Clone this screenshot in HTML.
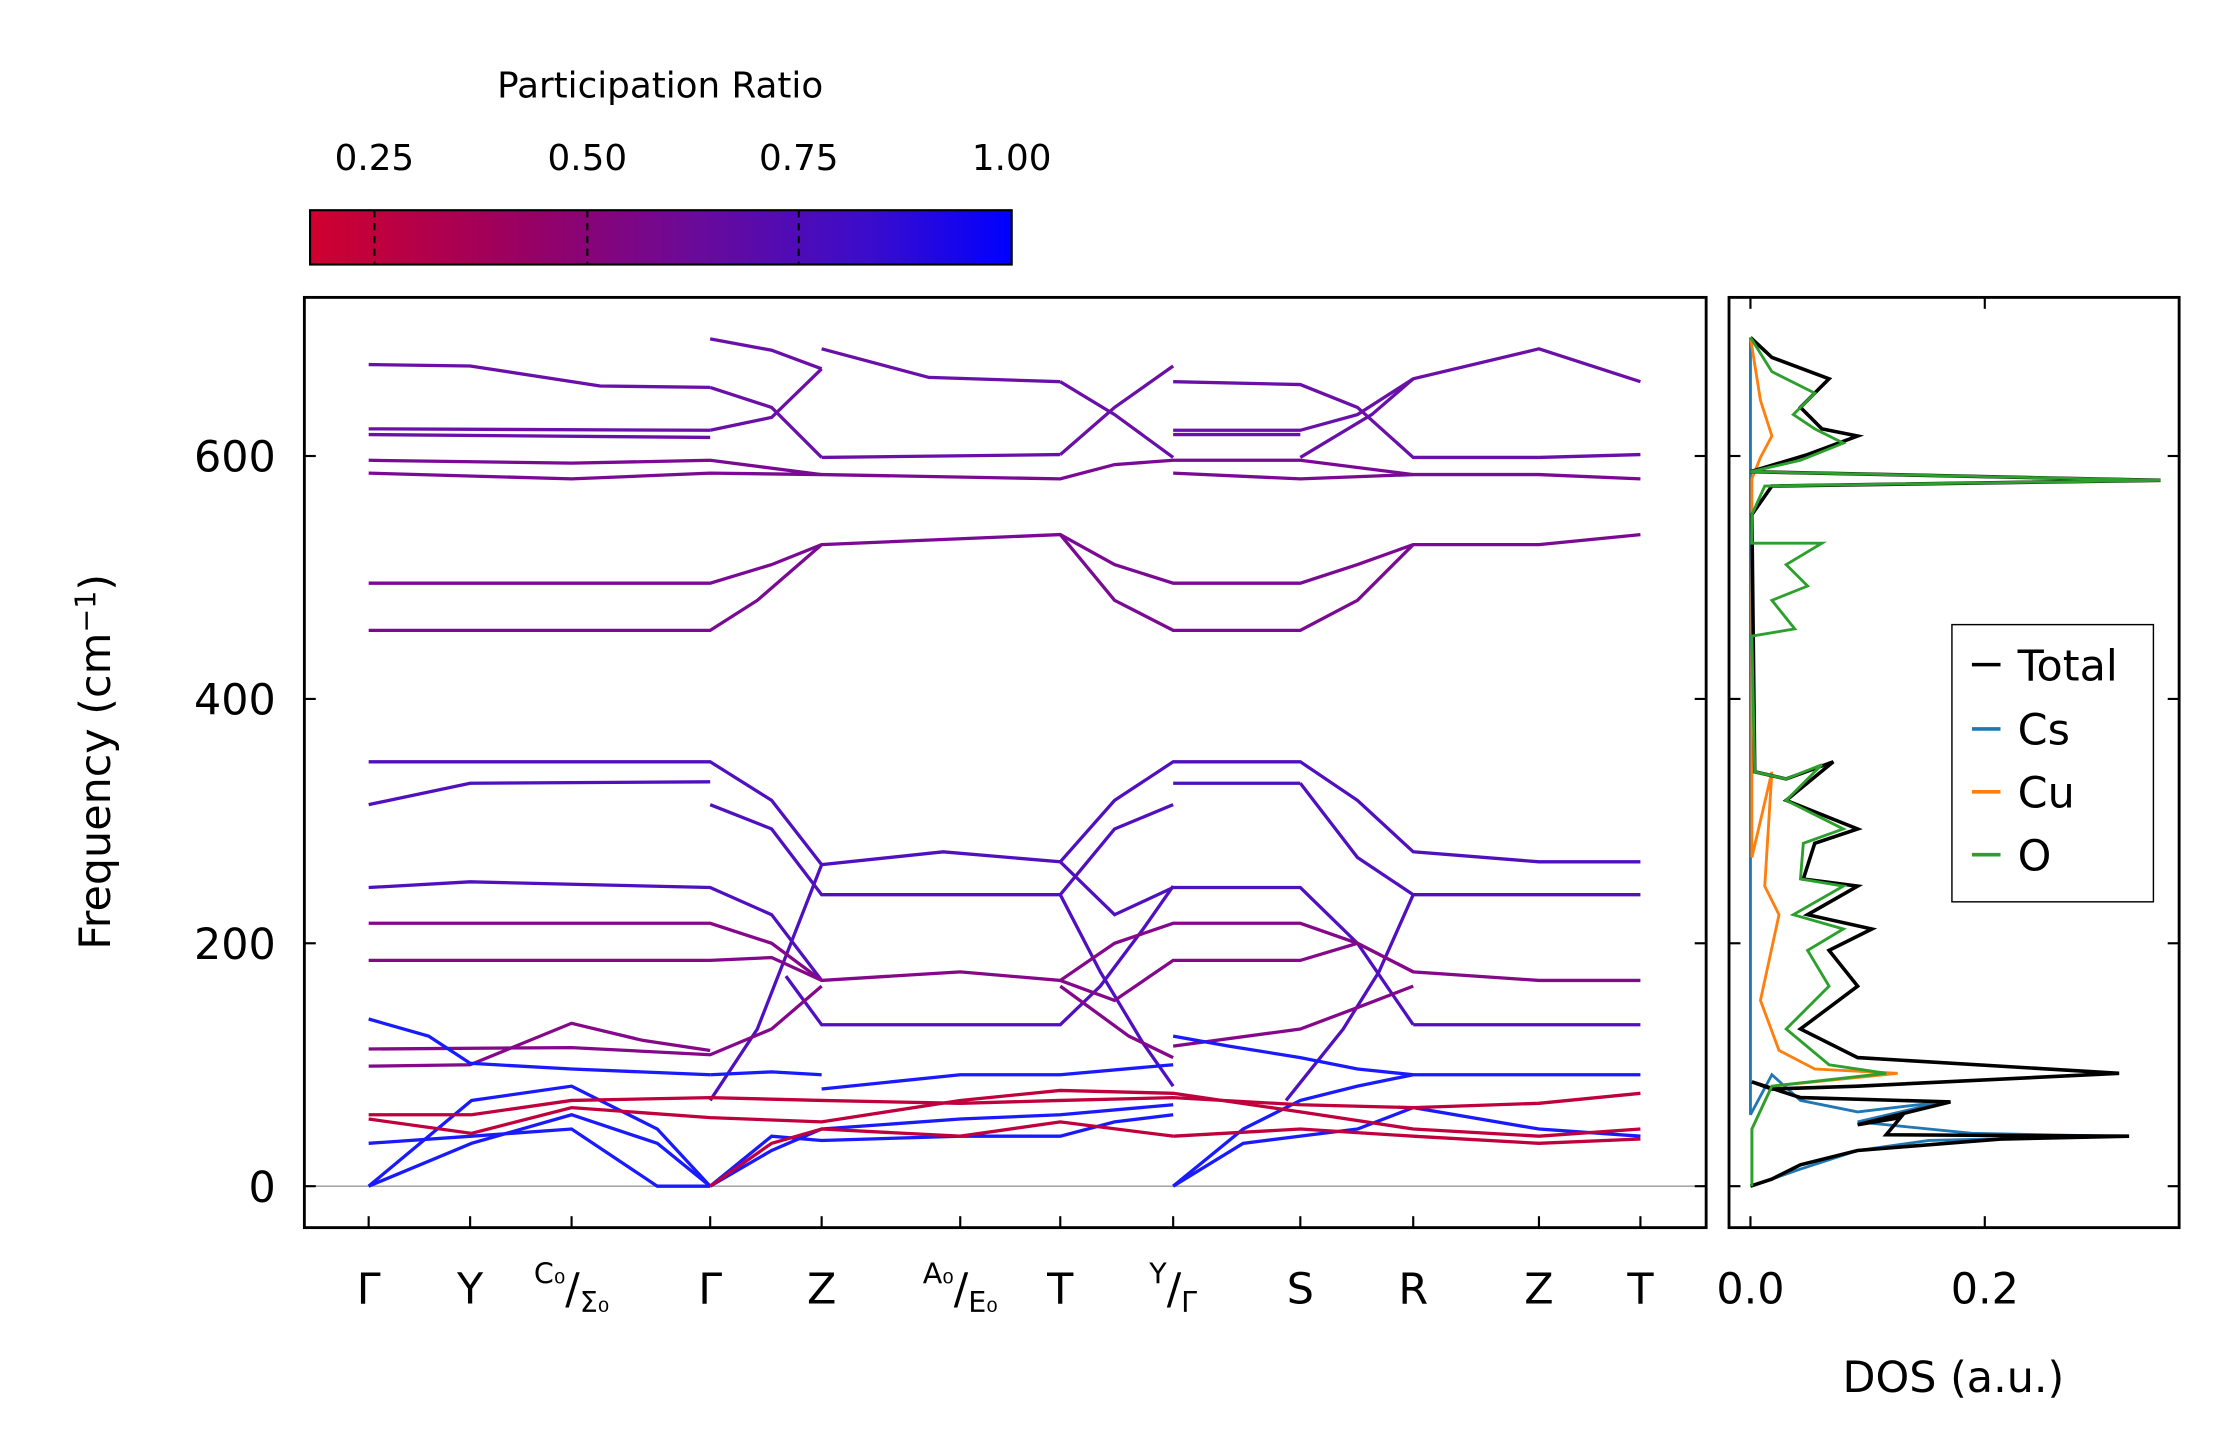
<!DOCTYPE html>
<html><head><meta charset="utf-8"><style>
html,body{margin:0;padding:0;background:#fff}
svg{display:block}
text{font-family:"DejaVu Sans","Liberation Sans",sans-serif;fill:#000}
</style></head><body>
<svg width="2222" height="1455" viewBox="0 0 1555 1018" xmlns="http://www.w3.org/2000/svg">
<defs>
<linearGradient id="cb" x1="0" x2="1" y1="0" y2="0">
<stop offset="0" stop-color="#d0002e"/><stop offset="0.3" stop-color="#9a0062"/>
<stop offset="0.55" stop-color="#6a0a9a"/><stop offset="0.8" stop-color="#3a0ccc"/>
<stop offset="1" stop-color="#0000ff"/></linearGradient>
<clipPath id="cp"><rect x="213" y="208" width="981" height="651"/></clipPath>
</defs>
<!-- colorbar -->
<text x="462" y="68" font-size="25" text-anchor="middle">Participation Ratio</text>
<g font-size="25" text-anchor="middle"><text x="262" y="119">0.25</text><text x="411" y="119">0.50</text><text x="559" y="119">0.75</text><text x="708" y="119">1.00</text></g>
<rect x="217" y="147" width="491" height="38" fill="url(#cb)" stroke="#000" stroke-width="1.5"/>
<g stroke="#000" stroke-width="1.5" stroke-dasharray="5,4"><line x1="262" y1="147" x2="262" y2="185"/><line x1="411" y1="147" x2="411" y2="185"/><line x1="559" y1="147" x2="559" y2="185"/></g>
<!-- main plot -->
<line x1="213" y1="830" x2="1194" y2="830" stroke="#999" stroke-width="1"/>
<g clip-path="url(#cp)" fill="none" stroke-width="2.3">
<g stroke="#6a10a8">
<polyline points="258,255 329,256 420,270 497,271"/>
<polyline points="258,300 497,301"/><polyline points="258,304 497,306"/>
<polyline points="497,237 540,245 575,258"/><polyline points="575,244 650,264 742,267"/>
<polyline points="497,301 540,292 575,258"/><polyline points="497,271 540,285 575,320"/>
<polyline points="575,320 742,318"/><polyline points="742,267 780,290 821,320"/><polyline points="742,318 780,285 821,256"/>
<polyline points="821,267 910,269 950,285 989,320 1077,320"/><polyline points="821,301 910,301 950,290 989,265 1077,244 1148,267"/>
<polyline points="821,304 910,304"/><polyline points="910,320 960,290 989,265"/>
<polyline points="1077,320 1148,318"/>
</g>
<g stroke="#7a0a94">
<polyline points="258,322 400,324 497,322 575,332 742,335 780,325 821,322 910,322 989,332 1077,332 1148,335"/>
<polyline points="258,331 400,335 497,331 575,332"/><polyline points="821,331 910,335 989,332"/>
<polyline points="258,408 497,408 540,395 575,381 742,374 780,395 821,408 910,408 950,395 989,381 1077,381 1148,374"/>
<polyline points="258,441 497,441 530,420 575,381"/><polyline points="742,374 780,420 821,441 910,441 950,420 989,381"/>
</g>
<g stroke="#5010c0">
<polyline points="258,533 497,533 540,560 575,605 660,596 742,603 780,560 821,533 910,533 950,560 989,596 1077,603 1148,603"/>
<polyline points="258,563 329,548 497,547"/><polyline points="497,563 540,580 575,626 742,626 780,580 821,563"/>
<polyline points="821,548 910,548"/><polyline points="910,548 950,600 989,626 1077,626 1148,626"/>
<polyline points="258,621 329,617 497,621 540,640 575,686"/><polyline points="742,603 780,640 821,621 910,621 950,660 989,717"/>
<polyline points="497,770 530,720 575,605"/><polyline points="742,626 770,680 800,730 821,760"/>
<polyline points="550,683 575,717 742,717 770,690 800,650 821,620"/>
<polyline points="900,770 940,720 965,680 989,626"/><polyline points="989,717 1077,717 1148,717"/>
</g>
<g stroke="#85088a">
<polyline points="258,646 497,646 540,660 575,686 672,680 742,686 780,660 821,646 910,646 950,660 989,680 1077,686 1148,686"/>
<polyline points="258,672 497,672 540,670 575,686"/><polyline points="742,686 780,700 821,672 910,672 950,660 989,680"/>
<polyline points="258,734 400,733 497,738 540,720 575,690"/><polyline points="258,746 329,745 400,716 450,728 497,735"/>
<polyline points="742,690 790,725 821,740"/><polyline points="821,732 910,720 950,705 989,690"/>
</g>
<g stroke="#1a1aff">
<polyline points="258,713 300,725 329,744 400,748 497,752"/>
<polyline points="258,830 330,770 400,760 460,790 497,830"/><polyline points="258,830 330,800 400,780 460,800 497,830"/>
<polyline points="258,800 330,795 400,790 460,830 497,830"/>
<polyline points="497,830 540,795 575,798 672,795 742,795 780,785 821,780"/>
<polyline points="497,830 540,805 575,790 672,783 742,780 821,773"/><polyline points="497,752 540,750 575,752"/>
<polyline points="575,762 672,752 742,752 821,745"/>
<polyline points="821,830 870,790 910,770 950,760 989,752 1077,752 1148,752"/>
<polyline points="821,830 870,800 910,795 950,790 989,775 1077,790 1148,795"/>
<polyline points="821,725 860,732 910,740 950,748 989,752"/>
</g>
<g stroke="#c0003e">
<polyline points="258,780 330,780 400,770 497,768 575,770 672,772 742,770 821,768 910,773 989,775 1077,772 1148,765"/>
<polyline points="258,783 330,793 400,775 497,782 575,785 672,770 742,763 821,765 910,778 989,790 1077,795 1148,790"/>
<polyline points="497,830 540,800 575,790 672,795 742,785 821,795"/><polyline points="821,795 910,790 989,795 1077,800 1148,797"/>
</g>
</g>
<rect x="213" y="208" width="981" height="651" fill="none" stroke="#000" stroke-width="2"/>
<g stroke="#000" stroke-width="1.5">
<line x1="258" y1="859" x2="258" y2="851"/><line x1="329" y1="859" x2="329" y2="851"/><line x1="400" y1="859" x2="400" y2="851"/><line x1="497" y1="859" x2="497" y2="851"/><line x1="575" y1="859" x2="575" y2="851"/><line x1="672" y1="859" x2="672" y2="851"/><line x1="742" y1="859" x2="742" y2="851"/><line x1="821" y1="859" x2="821" y2="851"/><line x1="910" y1="859" x2="910" y2="851"/><line x1="989" y1="859" x2="989" y2="851"/><line x1="1077" y1="859" x2="1077" y2="851"/><line x1="1148" y1="859" x2="1148" y2="851"/>
<line x1="213" y1="830" x2="221" y2="830"/><line x1="213" y1="660" x2="221" y2="660"/><line x1="213" y1="489" x2="221" y2="489"/><line x1="213" y1="319" x2="221" y2="319"/>
<line x1="1194" y1="830" x2="1186" y2="830"/><line x1="1194" y1="660" x2="1186" y2="660"/><line x1="1194" y1="489" x2="1186" y2="489"/><line x1="1194" y1="319" x2="1186" y2="319"/>
</g>
<g font-size="30" text-anchor="end"><text x="193" y="841">0</text><text x="193" y="671">200</text><text x="193" y="500">400</text><text x="193" y="330">600</text></g>
<text transform="translate(77,533) rotate(-90)" font-size="30" text-anchor="middle">Frequency (cm<tspan dy="-10" font-size="20">−1</tspan><tspan dy="10">)</tspan></text>
<g font-size="30" text-anchor="middle">
<text x="258" y="912">Γ</text><text x="329" y="912">Y</text><text x="497" y="912">Γ</text><text x="575" y="912">Z</text><text x="742" y="912">T</text><text x="910" y="912">S</text><text x="989" y="912">R</text><text x="1077" y="912">Z</text><text x="1148" y="912">T</text>
<text x="400" y="912"><tspan font-size="20" dy="-14">C₀</tspan><tspan dy="14">/</tspan><tspan font-size="20" dy="6">Σ₀</tspan></text>
<text x="672" y="912"><tspan font-size="20" dy="-14">A₀</tspan><tspan dy="14">/</tspan><tspan font-size="20" dy="6">E₀</tspan></text>
<text x="821" y="912"><tspan font-size="20" dy="-14">Y</tspan><tspan dy="14">/</tspan><tspan font-size="20" dy="6">Γ</tspan></text>
</g>
<!-- DOS -->
<g fill="none" stroke-width="2">
<polyline stroke="#1f77b4" points="1225,236 1225,780 1240,752 1260,770 1300,778 1360,771 1300,785 1380,793 1480,795 1350,798 1300,805 1260,818 1240,825 1225,830"/>
<polyline stroke="#ff7f0e" points="1225,236 1232,280 1240,305 1232,320 1226,335 1226,600 1240,540 1235,620 1245,640 1232,700 1245,735 1270,748 1328,751 1240,760 1226,790 1226,830"/>
<polyline stroke="#000" stroke-width="2.5" points="1225,236 1240,250 1280,265 1260,285 1275,300 1300,305 1265,318 1225,330 1512,336 1240,340 1226,360 1228,540 1250,545 1283,533 1250,560 1300,580 1270,590 1262,615 1300,620 1265,640 1310,650 1280,665 1300,690 1260,720 1300,740 1483,751 1300,760 1240,762 1226,757 1260,768 1365,771 1300,787 1330,782 1320,794 1490,795 1400,797 1300,805 1260,815 1240,825 1225,830"/>
<polyline stroke="#2ca02c" points="1225,236 1240,260 1270,275 1255,290 1270,300 1290,310 1260,322 1225,330 1512,336 1235,340 1226,360 1226,380 1275,380 1250,395 1265,410 1240,420 1256,440 1226,445 1228,540 1250,545 1275,535 1250,560 1290,580 1262,590 1260,615 1290,620 1255,640 1290,650 1265,665 1280,690 1250,720 1280,745 1320,751 1240,760 1226,790 1226,830"/>
</g>
<rect x="1210" y="208" width="315" height="651" fill="none" stroke="#000" stroke-width="2"/>
<g stroke="#000" stroke-width="1.5">
<line x1="1225" y1="859" x2="1225" y2="851"/><line x1="1389" y1="859" x2="1389" y2="851"/>
<line x1="1225" y1="208" x2="1225" y2="216"/><line x1="1389" y1="208" x2="1389" y2="216"/>
<line x1="1210" y1="830" x2="1218" y2="830"/><line x1="1210" y1="660" x2="1218" y2="660"/><line x1="1210" y1="489" x2="1218" y2="489"/><line x1="1210" y1="319" x2="1218" y2="319"/>
<line x1="1525" y1="830" x2="1517" y2="830"/><line x1="1525" y1="660" x2="1517" y2="660"/><line x1="1525" y1="489" x2="1517" y2="489"/><line x1="1525" y1="319" x2="1517" y2="319"/>
</g>
<g font-size="30" text-anchor="middle"><text x="1225" y="912">0.0</text><text x="1389" y="912">0.2</text><text x="1367" y="974">DOS (a.u.)</text></g>
<rect x="1366" y="437" width="141" height="194" fill="#fff" stroke="#000" stroke-width="1"/>
<g stroke-width="2.5"><line x1="1380" y1="465" x2="1400" y2="465" stroke="#000"/><line x1="1380" y1="510" x2="1400" y2="510" stroke="#1f77b4"/><line x1="1380" y1="554" x2="1400" y2="554" stroke="#ff7f0e"/><line x1="1380" y1="598" x2="1400" y2="598" stroke="#2ca02c"/></g>
<g font-size="30"><text x="1412" y="476">Total</text><text x="1412" y="521">Cs</text><text x="1412" y="565">Cu</text><text x="1412" y="609">O</text></g>
</svg>
</body></html>
